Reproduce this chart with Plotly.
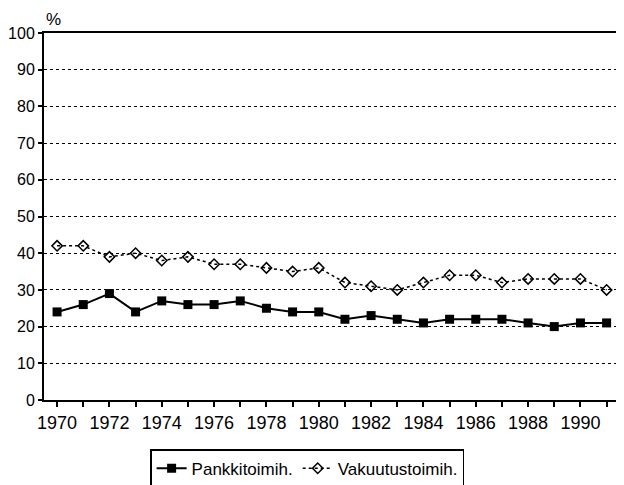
import plotly.graph_objects as go

years = list(range(1970, 1992))
pankki = [24, 26, 29, 24, 27, 26, 26, 27, 25, 24, 24, 22, 23, 22, 21, 22, 22, 22, 21, 20, 21, 21]
vakuutus = [42, 42, 39, 40, 38, 39, 37, 37, 36, 35, 36, 32, 31, 30, 32, 34, 34, 32, 33, 33, 33, 30]
x_ticks = list(range(1970, 1992, 2))
y_ticks = list(range(0, 101, 10))

fig = go.Figure()
fig.add_trace(go.Scatter(
    x=years, y=pankki, name="Pankkitoimih.", mode="lines+markers",
    line=dict(color="black", width=2),
    marker=dict(symbol="square", size=9, color="black"),
))
fig.add_trace(go.Scatter(
    x=years, y=vakuutus, name="Vakuutustoimih.", mode="lines+markers",
    line=dict(color="black", width=1.5, dash="dot"),
    marker=dict(symbol="diamond-open", size=8, color="black", line=dict(width=1.5)),
))

fig.update_layout(
    width=616, height=477,
    margin=dict(l=36, r=3, t=25, b=85, autoexpand=False),
    paper_bgcolor="white", plot_bgcolor="white",
    font=dict(family="Liberation Sans, Arial, sans-serif", size=17, color="black"),
    showlegend=True,
    legend=dict(
        orientation="h", x=0.456, xanchor="center", y=-0.134, yanchor="top",
        bordercolor="black", borderwidth=1.5, font=dict(size=17),
        itemwidth=30, tracegroupgap=0,
    ),
    xaxis=dict(
        range=[1969.5, 1991.55], tickvals=x_ticks, ticks="outside", ticklen=5,
        tickcolor="black", tickwidth=1.5, showgrid=False, showline=True, linecolor="black",
        linewidth=2, mirror=True, zeroline=False, automargin=False,
        tickfont=dict(size=18),
        minor=dict(tickvals=years, ticks="outside", ticklen=5, tickcolor="black", tickwidth=1.5),
    ),
    yaxis=dict(
        range=[0, 100], tickvals=y_ticks, ticks="outside", ticklen=4,
        tickcolor="black", tickwidth=1.5, showgrid=True, gridcolor="black", griddash="dot",
        gridwidth=1.2, showline=True, linecolor="black", linewidth=2,
        mirror=True, zeroline=False, automargin=False, tickfont=dict(size=16),
    ),
    annotations=[dict(
        text="%", xref="paper", yref="paper", x=0.0, y=1.0, xanchor="left",
        yanchor="bottom", yshift=2, showarrow=False, font=dict(size=17),
    )],
)

fig.write_html("out.html")
